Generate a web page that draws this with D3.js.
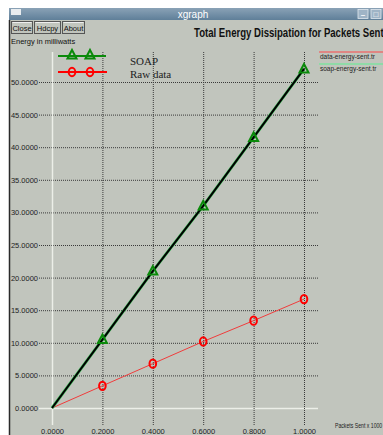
<!DOCTYPE html>
<html>
<head>
<meta charset="utf-8">
<script src="https://cdn.jsdelivr.net/npm/d3@7"></script>
<style>
  html, body { margin: 0; padding: 0; background: #ffffff; overflow: hidden; }
  svg { display: block; }
</style>
</head>
<body>
<script>
// Energy dissipation data (x = packets sent, y = energy in milliwatts)
const xValues = [0, 0.2, 0.4, 0.6, 0.8, 1.0];
const soapValues = [0, 10.5, 21.0, 31.0, 41.5, 52.0];
const rawValues = [0, 3.4, 6.8, 10.2, 13.4, 16.7];
const xTicks = [0, 0.2, 0.4, 0.6, 0.8, 1.0];
const yTicks = [0, 5, 10, 15, 20, 25, 30, 35, 40, 45, 50];
const seriesNames = ["SOAP", "Raw data"];
const fileNames = ["data-energy-sent.tr", "soap-energy-sent.tr"];

const W = 383, H = 435;
const svg = d3.select("body").append("svg").attr("width", W).attr("height", H);

const bg = "#c1c5bd";
const uiFont = "Liberation Sans, Arial, sans-serif";

// window frame
svg.append("rect").attr("x", 9).attr("y", 8).attr("width", W - 9).attr("height", H - 8).attr("fill", bg);
svg.append("line").attr("x1", 9.5).attr("x2", 9.5).attr("y1", 20).attr("y2", H).attr("stroke", "#2a2a2a").attr("stroke-width", 1.5);

// title bar
const grad = svg.append("defs").append("linearGradient").attr("id", "tb").attr("x1", 0).attr("x2", 0).attr("y1", 0).attr("y2", 1);
grad.append("stop").attr("offset", "0%").attr("stop-color", "#8aa2b6");
grad.append("stop").attr("offset", "100%").attr("stop-color", "#5f7f99");
svg.append("rect").attr("x", 9).attr("y", 8).attr("width", W - 9).attr("height", 12).attr("fill", "url(#tb)");
svg.append("rect").attr("x", 11).attr("y", 9).attr("width", 10).attr("height", 6).attr("fill", "#e8ecef");
svg.append("text").attr("x", 193).attr("y", 18).attr("text-anchor", "middle")
  .attr("font-family", uiFont).attr("font-size", 10).attr("fill", "#ffffff").text("xgraph");
[[358, "–"], [371, "□"]].forEach(([bx, s]) => {
  svg.append("rect").attr("x", bx).attr("y", 9.5).attr("width", 10).attr("height", 9)
    .attr("fill", "#9fb4c6").attr("stroke", "#e0e8ee").attr("stroke-width", 0.8);
  svg.append("text").attr("x", bx + 5).attr("y", 17).attr("text-anchor", "middle")
    .attr("font-family", uiFont).attr("font-size", 8).attr("font-weight", "bold").attr("fill", "#ffffff").text(s);
});

// buttons
[["Close", 11, 21], ["Hdcpy", 34, 26], ["About", 62, 22]].forEach(([t, bx, bw]) => {
  svg.append("rect").attr("x", bx + 0.5).attr("y", 21.5).attr("width", bw).attr("height", 12)
    .attr("fill", bg).attr("stroke", "#555").attr("stroke-width", 1);
  svg.append("line").attr("x1", bx + 1.5).attr("x2", bx + bw - 0.5).attr("y1", 22.5).attr("y2", 22.5).attr("stroke", "#eee");
  svg.append("text").attr("x", bx + bw / 2 + 0.5).attr("y", 31).attr("text-anchor", "middle")
    .attr("font-family", uiFont).attr("font-size", 7.5).attr("fill", "#111").text(t);
});

svg.append("text").attr("x", 11).attr("y", 44).attr("font-family", uiFont).attr("font-size", 7.5)
  .attr("fill", "#111").text("Energy in milliwatts");

// condensed chart title
svg.append("g").attr("transform", "translate(194,37) scale(0.8,1)")
  .append("text").attr("x", 0).attr("y", 0).attr("font-family", uiFont).attr("font-size", 12)
  .attr("font-weight", "bold").attr("fill", "#111")
  .text("Total Energy Dissipation for Packets Sent");

// scales
const x = d3.scaleLinear().domain([0, 1]).range([52, 304]);
const y = d3.scaleLinear().domain([0, 50]).range([408, 82]);
const gridLeft = 39, gridRight = 318, gridTop = 52, gridBottom = 425;

// horizontal grid + y labels
const yAxis = d3.axisLeft(y).tickValues(yTicks).tickFormat(d3.format(".4f"))
  .tickSize(-(gridRight - gridLeft)).tickPadding(1);
const gy = svg.append("g").attr("transform", `translate(${gridLeft},0)`).call(yAxis);
gy.select(".domain").remove();
gy.selectAll(".tick line")
  .attr("stroke", d => d === 0 ? "#ecefe8" : "#3a3a3a")
  .attr("stroke-width", d => d === 0 ? 1.5 : 1)
  .attr("stroke-dasharray", d => d === 0 ? null : "1,1");
gy.selectAll(".tick text").attr("font-family", uiFont).attr("font-size", 7.5).attr("fill", "#222");

// vertical grid + x labels
const xAxis = d3.axisBottom(x).tickValues(xTicks).tickFormat(d3.format(".4f"))
  .tickSize(-(gridBottom - gridTop)).tickPadding(4);
const gx = svg.append("g").attr("transform", `translate(0,${gridBottom})`).call(xAxis);
gx.select(".domain").remove();
gx.selectAll(".tick line")
  .attr("stroke", d => d === 0 ? "#ecefe8" : "#3a3a3a")
  .attr("stroke-width", d => d === 0 ? 1.5 : 1)
  .attr("stroke-dasharray", d => d === 0 ? null : "1,1");
gx.selectAll(".tick text").attr("font-family", uiFont).attr("font-size", 7.5).attr("fill", "#222");

// x axis unit label, condensed to fit beside the plot
svg.append("g").attr("transform", "translate(335,428) scale(0.76,1)")
  .append("text").attr("x", 0).attr("y", 0).attr("font-family", uiFont).attr("font-size", 6.8)
  .attr("fill", "#222").text("Packets Sent x 1000");

// series lines
const line = d3.line().x(d => x(d[0])).y(d => y(d[1]));
const rawPts = xValues.map((v, i) => [v, rawValues[i]]);
const soapPts = xValues.map((v, i) => [v, soapValues[i]]);

svg.append("path").datum(rawPts).attr("d", line).attr("fill", "none").attr("stroke", "#f03c3c").attr("stroke-width", 1);
svg.append("path").datum(soapPts).attr("d", line).attr("fill", "none").attr("stroke", "#3ec05a").attr("stroke-width", 3);
svg.append("path").datum(soapPts).attr("d", line).attr("fill", "none").attr("stroke", "#000").attr("stroke-width", 2);

// markers
const tri = (cx, cy) => `M${cx},${cy - 5}L${cx + 4.5},${cy + 3.5}L${cx - 4.5},${cy + 3.5}Z`;
svg.append("g").selectAll("path").data(soapPts.slice(1)).join("path")
  .attr("d", d => tri(x(d[0]), y(d[1])))
  .attr("fill", "none").attr("stroke", "#0a8a0a").attr("stroke-width", 2);
svg.append("g").selectAll("ellipse").data(rawPts.slice(1)).join("ellipse")
  .attr("cx", d => x(d[0])).attr("cy", d => y(d[1])).attr("rx", 3.3).attr("ry", 4.2)
  .attr("fill", "none").attr("stroke", "#ff0000").attr("stroke-width", 2);

// inner legend
const legY = [56, 72];
svg.append("line").attr("x1", 58).attr("x2", 106).attr("y1", legY[0]).attr("y2", legY[0]).attr("stroke", "#0a8a0a").attr("stroke-width", 2);
svg.append("line").attr("x1", 58).attr("x2", 107).attr("y1", legY[1]).attr("y2", legY[1]).attr("stroke", "#ff0000").attr("stroke-width", 2);
[72, 90].forEach(cx => {
  svg.append("path").attr("d", tri(cx, legY[0] - 1)).attr("fill", "none").attr("stroke", "#0a8a0a").attr("stroke-width", 2);
  svg.append("ellipse").attr("cx", cx).attr("cy", legY[1]).attr("rx", 3.3).attr("ry", 4.2)
    .attr("fill", "none").attr("stroke", "#ff0000").attr("stroke-width", 2);
});
seriesNames.forEach((n, i) => {
  svg.append("text").attr("x", 130).attr("y", [65, 78][i]).attr("font-family", "Liberation Serif, Times New Roman, serif")
    .attr("font-size", 11).attr("fill", "#222").text(n);
});

// file legend on the right
const fileColors = ["#e87070", "#7ee0a0"];
fileNames.forEach((f, i) => {
  const ly = 52 + i * 12;
  svg.append("line").attr("x1", 319).attr("x2", W).attr("y1", ly).attr("y2", ly).attr("stroke", fileColors[i]).attr("stroke-width", 1.5);
  svg.append("text").attr("x", 320).attr("y", ly + 7).attr("font-family", uiFont).attr("font-size", 6.5)
    .attr("fill", "#222").text(f);
});
</script>
</body>
</html>
